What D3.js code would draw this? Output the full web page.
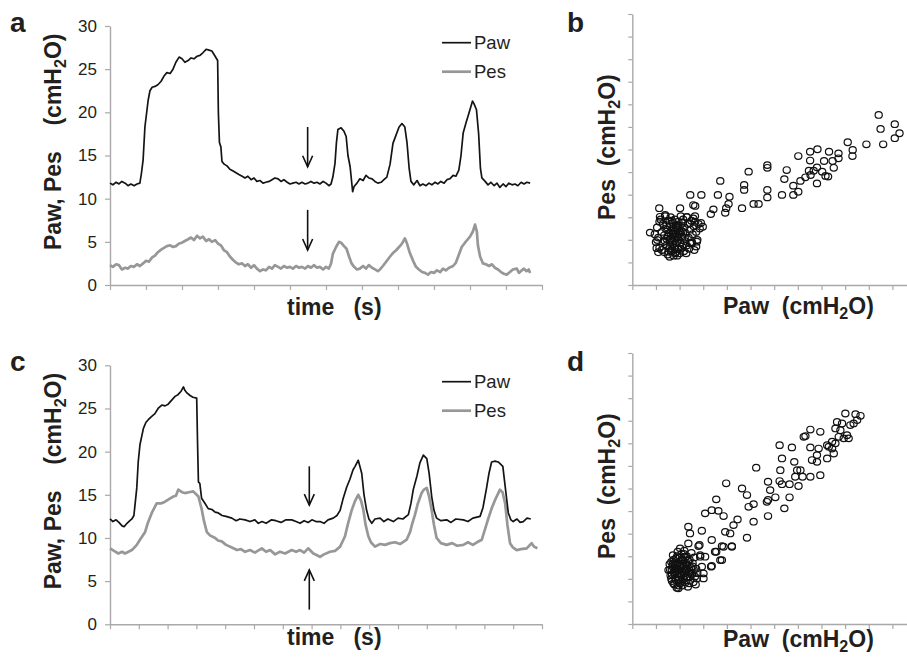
<!DOCTYPE html>
<html>
<head>
<meta charset="utf-8">
<script src="https://cdn.jsdelivr.net/npm/d3@7"></script>
<style>
  body { margin: 0; background: #fff; }
  svg text { font-family: "Liberation Sans", Arial, Helvetica, sans-serif; fill: #231f20; }
</style>
</head>
<body>
<svg id="chart" width="907" height="657"></svg>
<script>
// ---- data (time in axis tick units, pressures in cmH2O) ----
const pressureTicks = [0, 5, 10, 15, 20, 25, 30];

const aPaw = [[0,11.8],[0.08,11.6],[0.17,11.9],[0.25,11.7],[0.33,12.0],[0.42,11.8],[0.5,11.5],[0.58,11.7],[0.67,11.5],[0.75,11.7],[0.83,11.8],[0.875,13.0],[0.92,14.5],[0.97,18.3],[1.06,21.4],[1.11,22.5],[1.17,22.9],[1.25,23.0],[1.33,23.2],[1.42,23.6],[1.5,24.2],[1.58,24.6],[1.67,24.5],[1.75,25.0],[1.83,25.8],[1.92,26.4],[2.0,26.2],[2.08,25.8],[2.17,26.0],[2.25,26.3],[2.33,26.2],[2.42,26.5],[2.5,26.6],[2.58,26.9],[2.67,27.3],[2.75,27.2],[2.83,27.1],[2.92,26.5],[2.99,26.0],[3.01,20.0],[3.04,16.5],[3.08,16.0],[3.11,14.3],[3.17,14.0],[3.25,13.8],[3.33,13.4],[3.42,13.2],[3.5,13.0],[3.58,12.8],[3.67,12.6],[3.75,12.4],[3.83,12.6],[3.92,12.2],[4.0,12.4],[4.08,12.0],[4.17,12.1],[4.25,11.8],[4.33,11.9],[4.42,12.0],[4.5,12.2],[4.58,12.4],[4.67,12.3],[4.75,12.0],[4.83,12.2],[4.92,11.9],[5.0,11.7],[5.08,11.8],[5.17,11.9],[5.25,11.7],[5.33,11.9],[5.42,11.7],[5.5,11.8],[5.58,12.0],[5.67,11.8],[5.75,11.9],[5.83,11.7],[5.92,12.0],[6.0,11.8],[6.08,11.5],[6.14,11.7],[6.19,12.5],[6.25,14.1],[6.29,16.5],[6.33,18.0],[6.42,18.2],[6.5,17.8],[6.56,17.2],[6.61,15.0],[6.67,13.7],[6.74,10.8],[6.78,11.4],[6.86,11.8],[6.94,12.3],[7.03,12.1],[7.11,12.7],[7.19,12.4],[7.28,12.3],[7.36,12.0],[7.44,11.8],[7.53,11.9],[7.61,12.2],[7.69,12.5],[7.78,14.0],[7.86,16.4],[7.94,17.3],[8.03,18.3],[8.11,18.7],[8.19,18.3],[8.25,16.5],[8.31,13.5],[8.36,12.0],[8.44,11.6],[8.53,12.1],[8.61,11.5],[8.69,11.7],[8.78,11.5],[8.86,11.8],[8.94,11.6],[9.03,11.9],[9.11,11.7],[9.19,12.0],[9.28,11.8],[9.36,12.2],[9.44,12.3],[9.53,12.7],[9.61,12.6],[9.69,13.3],[9.75,15.0],[9.81,17.6],[9.89,18.8],[9.97,19.9],[10.07,21.3],[10.11,21.0],[10.18,20.3],[10.24,17.5],[10.29,13.5],[10.33,12.4],[10.42,12.0],[10.5,11.6],[10.58,11.9],[10.67,11.5],[10.75,11.8],[10.83,11.3],[10.92,11.7],[11.0,11.4],[11.08,11.8],[11.17,11.6],[11.25,11.7],[11.33,11.5],[11.42,11.9],[11.5,11.7],[11.58,11.9],[11.67,11.8]];

const aPes = [[0,2.3],[0.08,2.1],[0.17,2.4],[0.25,2.3],[0.33,1.8],[0.42,2.0],[0.5,1.9],[0.58,2.2],[0.67,2.1],[0.75,2.4],[0.83,2.2],[0.92,2.5],[1.0,2.8],[1.08,2.7],[1.17,3.2],[1.25,3.4],[1.33,3.8],[1.42,4.1],[1.5,4.3],[1.58,4.5],[1.67,4.6],[1.75,4.4],[1.83,4.5],[1.92,4.8],[2.0,4.9],[2.08,5.1],[2.17,5.3],[2.25,5.5],[2.33,5.2],[2.42,5.7],[2.5,5.4],[2.58,5.6],[2.67,5.1],[2.75,5.3],[2.83,5.0],[2.92,5.2],[3.0,4.8],[3.08,4.6],[3.17,4.0],[3.25,3.8],[3.33,3.3],[3.42,2.9],[3.5,2.6],[3.58,2.4],[3.67,2.5],[3.75,2.2],[3.83,2.4],[3.92,2.0],[4.0,2.3],[4.08,1.9],[4.17,1.6],[4.25,1.8],[4.33,1.7],[4.42,2.1],[4.5,1.9],[4.58,2.3],[4.67,2.1],[4.75,1.9],[4.83,2.2],[4.92,2.0],[5.0,2.1],[5.08,1.9],[5.17,2.2],[5.25,2.0],[5.33,2.1],[5.42,1.9],[5.5,2.2],[5.58,2.0],[5.67,2.3],[5.75,2.0],[5.83,2.1],[5.92,1.8],[6.0,2.1],[6.08,1.9],[6.14,2.5],[6.19,3.6],[6.28,4.4],[6.36,5.0],[6.42,4.9],[6.5,4.5],[6.57,4.2],[6.64,3.3],[6.71,2.5],[6.78,2.1],[6.86,1.8],[6.94,1.9],[7.03,2.2],[7.11,1.9],[7.19,2.3],[7.28,2.0],[7.36,1.8],[7.44,1.6],[7.5,1.8],[7.58,2.2],[7.67,2.7],[7.78,3.3],[7.86,3.7],[7.94,4.0],[8.03,4.4],[8.11,4.8],[8.19,5.4],[8.25,4.8],[8.33,3.7],[8.42,2.8],[8.5,2.1],[8.58,1.8],[8.67,1.5],[8.75,1.4],[8.83,1.2],[8.92,1.5],[9.0,1.4],[9.08,1.7],[9.17,1.5],[9.25,1.9],[9.33,1.7],[9.42,2.0],[9.53,2.2],[9.61,2.6],[9.69,3.5],[9.77,4.4],[9.86,4.9],[9.94,5.3],[10.0,5.6],[10.08,6.2],[10.14,7.0],[10.19,6.2],[10.22,4.6],[10.28,3.3],[10.36,2.5],[10.44,2.4],[10.53,2.2],[10.61,2.4],[10.69,2.0],[10.78,1.8],[10.86,1.5],[10.94,1.3],[11.02,1.2],[11.11,1.5],[11.19,1.8],[11.3,1.9],[11.36,1.4],[11.44,1.7],[11.5,1.9],[11.57,1.6],[11.63,1.8],[11.67,1.4]];

const cPaw = [[0,12.2],[0.1,11.9],[0.21,12.1],[0.31,11.8],[0.42,11.4],[0.49,11.3],[0.59,11.7],[0.69,12.0],[0.76,12.2],[0.83,12.6],[0.93,15.8],[0.98,18.8],[1.04,20.8],[1.16,22.7],[1.25,23.4],[1.33,23.7],[1.42,24.0],[1.56,24.4],[1.67,25.0],[1.8,25.4],[1.91,25.3],[2.02,25.5],[2.15,26.0],[2.26,26.4],[2.36,26.6],[2.47,27.0],[2.55,27.5],[2.6,27.1],[2.67,26.8],[2.78,26.5],[2.88,26.3],[3.01,26.2],[3.04,21.0],[3.07,16.5],[3.12,16.3],[3.18,14.6],[3.3,14.0],[3.41,13.4],[3.54,13.3],[3.65,13.0],[3.76,12.9],[3.89,12.6],[4.03,12.5],[4.23,12.3],[4.38,12.0],[4.51,12.2],[4.69,12.1],[4.86,11.9],[5.03,12.1],[5.15,11.7],[5.28,11.9],[5.42,11.7],[5.61,12.1],[5.76,12.0],[5.94,11.8],[6.11,12.1],[6.31,12.1],[6.46,11.9],[6.6,11.7],[6.74,12.0],[6.88,11.8],[7.01,12.1],[7.15,11.9],[7.29,11.9],[7.43,11.7],[7.57,12.1],[7.75,12.3],[7.88,12.6],[7.99,13.2],[8.09,14.5],[8.22,15.9],[8.33,16.8],[8.44,17.9],[8.51,18.3],[8.62,19.0],[8.74,17.5],[8.82,15.0],[8.91,13.2],[8.99,12.2],[9.09,11.7],[9.2,12.2],[9.38,12.3],[9.51,11.9],[9.65,12.2],[9.84,11.9],[10.0,12.3],[10.17,12.2],[10.36,12.7],[10.45,14.0],[10.53,15.6],[10.66,17.2],[10.76,18.7],[10.88,19.6],[11.0,19.2],[11.08,17.5],[11.17,14.8],[11.25,13.2],[11.34,12.3],[11.49,12.0],[11.69,12.1],[11.84,11.8],[12.01,12.2],[12.27,12.1],[12.43,11.9],[12.6,12.3],[12.85,12.5],[12.95,13.5],[13.08,15.9],[13.16,17.5],[13.25,18.8],[13.37,18.9],[13.48,18.8],[13.64,18.3],[13.72,16.0],[13.83,12.9],[13.92,12.1],[14.0,11.9],[14.13,12.2],[14.24,11.8],[14.35,11.9],[14.48,12.3],[14.61,12.2]];

const cPes = [[0,8.8],[0.14,8.5],[0.29,8.2],[0.42,8.4],[0.52,8.2],[0.64,8.4],[0.76,8.6],[0.93,9.2],[1.04,9.8],[1.22,10.7],[1.32,11.8],[1.45,12.9],[1.62,14.0],[1.77,14.0],[1.91,14.2],[2.05,14.5],[2.2,14.8],[2.29,14.9],[2.37,15.6],[2.5,15.3],[2.6,15.2],[2.74,15.3],[2.89,15.4],[3.07,14.8],[3.18,13.4],[3.26,12.0],[3.36,10.7],[3.47,10.3],[3.65,10.0],[3.75,9.7],[3.88,9.6],[4.03,9.2],[4.23,8.9],[4.41,8.6],[4.55,8.7],[4.69,8.4],[4.86,8.6],[5.03,8.3],[5.27,8.8],[5.42,8.4],[5.56,8.6],[5.73,8.1],[5.9,8.4],[6.08,8.2],[6.31,8.6],[6.46,8.4],[6.6,8.6],[6.74,8.3],[6.88,8.8],[7.06,8.2],[7.19,8.0],[7.29,7.8],[7.43,8.1],[7.64,8.4],[7.81,8.5],[7.99,9.0],[8.16,10.2],[8.26,11.6],[8.39,13.2],[8.51,14.3],[8.62,15.0],[8.72,14.3],[8.8,13.2],[8.87,11.6],[8.97,10.2],[9.06,9.5],[9.2,9.0],[9.38,9.3],[9.55,9.2],[9.72,9.4],[9.9,9.5],[10.07,9.3],[10.3,9.8],[10.42,10.7],[10.49,11.6],[10.59,12.7],[10.69,14.0],[10.82,15.2],[10.9,15.6],[11.0,15.8],[11.08,14.8],[11.17,13.2],[11.25,11.5],[11.34,10.0],[11.49,9.4],[11.69,9.2],[11.88,9.4],[12.05,9.1],[12.27,9.2],[12.43,9.5],[12.6,9.2],[12.74,9.5],[12.91,9.8],[13.02,11.0],[13.14,12.3],[13.25,13.4],[13.37,14.4],[13.47,15.1],[13.54,15.6],[13.63,15.3],[13.72,14.0],[13.8,11.5],[13.89,9.4],[13.99,8.9],[14.12,8.6],[14.27,8.7],[14.47,8.8],[14.64,9.4],[14.72,9.0],[14.84,8.8]];

// occlusion arrows: [time, from, to]
const aArrows = [[5.49, 18.3, 13.7], [5.49, 8.7, 4.05]];
const cArrows = [[6.92, 18.3, 13.8], [6.92, 1.7, 6.3]];

// scatter points, in grid units of the unlabelled axes: [Paw, Pes]
const bPoints = [[10.42,7.53],[10.50,6.91],[11.10,7.12],[11.30,6.72],[11.10,6.50],[10.61,6.23],[9.90,6.23],[9.11,6.32],[9.32,5.98],[9.31,5.71],[8.72,5.83],[8.72,5.61],[8.32,5.90],[8.47,5.49],[8.11,5.49],[8.52,5.19],[7.83,6.01],[7.52,5.90],[7.52,5.51],[7.02,5.71],[7.81,5.21],[7.67,5.06],[8.03,5.02],[7.47,5.06],[7.54,4.87],[7.32,4.77],[7.11,4.61],[7.81,4.50],[8.28,4.80],[8.17,4.83],[6.53,5.09],[6.43,4.69],[6.81,4.40],[7.02,4.13],[6.81,3.99],[6.33,3.99],[5.71,5.31],[5.71,5.19],[4.92,5.02],[4.73,4.43],[4.73,4.21],[5.71,4.21],[5.71,3.88],[3.72,4.61],[3.62,3.99],[4.11,3.91],[4.07,3.59],[3.97,3.40],[3.93,3.20],[4.64,3.40],[5.13,3.59],[5.34,3.59],[2.92,3.99],[2.45,3.99],[3.43,3.35],[3.32,3.14],[2.66,3.50],[2.02,3.40],[1.14,3.40],[2.98,2.58],[0.75,2.32],
  [2.58,3.54],[2.73,1.92],[2.52,1.85],[1.03,1.63],[1.06,1.99],[1.53,1.47],[1.81,1.40],[1.17,3.02],[1.39,3.10],[2.31,3.02],[2.44,2.73],[2.66,2.80],[2.16,1.77],
  [1.05,2.55],[1.10,2.10],[1.15,1.65],[1.20,2.90],[1.25,2.35],[1.30,1.90],[1.30,2.70],[1.35,1.45],[1.35,2.20],[1.40,3.05],[1.40,2.50],[1.45,1.75],[1.45,2.05],[1.50,2.85],[1.50,1.35],[1.55,2.30],[1.55,1.60],[1.60,2.60],[1.60,1.95],[1.62,3.00],[1.65,1.50],[1.65,2.40],[1.70,2.15],[1.70,1.80],[1.72,2.75],[1.75,1.30],[1.75,2.50],[1.78,2.00],[1.80,1.65],[1.80,2.90],[1.82,2.30],[1.85,1.45],[1.85,2.65],[1.88,1.90],[1.90,2.45],[1.92,2.10],[1.95,1.60],[1.95,2.80],[1.98,2.25],[2.00,1.40],[2.00,2.60],[2.02,1.85],[2.05,3.05],[2.08,2.40],[2.10,1.70],[2.10,2.15],[2.15,2.90],[2.18,1.50],[2.20,2.55],[2.22,1.95],[2.25,2.30],[2.30,3.00],[2.30,1.75],[2.35,2.70],[2.38,2.10],[2.40,1.60],[2.45,2.45],[2.50,2.85],[2.52,1.90],[2.55,2.25],[2.60,2.60],[2.62,1.55],[2.65,3.05],[2.70,2.35],[2.75,2.00],[2.80,2.70],[2.85,2.50],[1.15,2.80],[1.25,1.55],[1.45,2.65],[1.58,1.25],[1.68,2.85],[1.90,1.30],[2.12,2.75],[2.28,1.40],[2.45,1.85],[2.58,2.95],[1.38,1.95],[1.52,2.15],[1.75,2.25],[1.95,2.00],[2.15,2.35],[1.60,1.70],[1.85,2.55],[2.05,1.60],[1.00,1.90],[0.95,2.25],[1.10,1.45],[2.90,2.75],[2.70,1.70],
  [1.62,2.05],[1.72,2.40],[1.88,2.15],[2.02,2.35],[1.68,1.60],[1.82,1.85],[1.48,2.45],[2.22,2.10],[1.92,2.65],[1.58,2.85]];

const dPoints = [[9.01,9.32],[9.44,9.29],[9.65,9.22],[8.66,8.95],[8.87,8.88],[9.22,8.81],[9.36,8.88],[9.51,9.03],[8.59,8.66],[8.80,8.58],[9.08,8.36],[8.94,8.22],[9.15,8.22],[8.73,8.29],[8.45,8.07],[8.59,8.00],[8.31,7.85],[8.45,7.77],[8.52,7.55],[8.24,7.92],[7.95,8.51],[7.53,8.61],[7.32,8.32],[7.25,8.29],[7.53,7.82],[7.88,7.77],[7.81,7.48],[7.60,7.26],[7.81,7.18],[8.24,7.33],[7.95,6.59],[7.53,6.52],[7.20,6.52],[7.11,6.81],[6.97,6.81],[6.89,6.52],[7.03,6.11],[6.65,6.19],[6.75,7.82],[6.23,7.92],[6.33,7.33],[6.85,7.18],[6.26,6.81],[6.23,6.33],[6.33,6.19],[5.24,6.92],[5.74,6.30],[5.83,5.93],[6.05,5.61],[5.74,5.49],[5.69,5.41],[6.65,5.61],[6.43,5.12],[5.74,4.78],[5.13,5.31],[4.92,5.19],[4.85,5.71],[4.64,6.00],[3.97,6.23],[3.55,5.52],[3.08,4.90],[3.36,5.04],[3.64,5.01],[3.86,4.78],[4.45,4.63],[4.28,4.38],[4.14,4.01],[3.93,4.08],[5.13,4.53],[4.85,3.82],[4.21,3.42],[3.86,3.42],[3.36,3.72],[3.55,3.20],[3.72,2.83],[2.94,4.13],[2.37,4.31],[2.44,4.01],[2.84,3.50],[3.33,2.54],[3.01,2.24],
  [2.80,3.45],[2.87,3.05],[2.37,3.57],[2.94,2.54],[3.36,2.57],[3.01,2.02],[2.73,2.02],[1.74,1.80],[1.95,1.58],[1.67,2.39],[2.02,3.35],[3.50,3.20],[3.79,3.45],[4.21,3.45],[3.79,2.83],[1.53,2.39],[2.44,2.09],[3.08,2.98],[2.87,2.98],
  [1.60,2.40],[1.62,2.15],[1.65,2.75],[1.68,1.90],[1.70,2.55],[1.72,3.05],[1.75,2.30],[1.78,1.75],[1.80,2.65],[1.82,2.05],[1.85,2.90],[1.85,2.45],[1.88,1.60],[1.90,2.20],[1.92,3.20],[1.95,2.70],[1.95,1.95],[1.98,2.40],[2.00,2.95],[2.02,1.80],[2.05,2.55],[2.05,2.15],[2.08,3.10],[2.10,2.35],[2.12,1.70],[2.15,2.80],[2.15,2.00],[2.18,2.55],[2.20,3.25],[2.22,2.25],[2.25,1.85],[2.25,2.70],[2.28,2.45],[2.30,3.00],[2.32,2.10],[2.35,1.65],[2.38,2.60],[2.40,2.30],[2.42,2.85],[2.45,1.95],[2.48,2.50],[2.50,3.15],[2.52,2.20],[2.55,2.70],[2.58,1.85],[2.60,2.40],[2.62,2.95],[2.65,2.10],[1.75,2.85],[1.88,2.60],[2.00,2.25],[2.12,2.65],[2.22,2.95],[1.68,2.20],[1.95,1.70],[2.35,2.80],[2.45,2.25],[1.82,2.35],[2.08,1.90],[2.28,2.05],[2.40,1.80],[2.55,2.55],[1.58,2.65],[1.65,2.00],[2.70,2.45],[2.68,1.75],[2.75,2.25],[1.90,3.00],[2.18,3.10],[2.05,2.80],[1.78,2.50],[2.32,2.40],
  [1.92,2.45],[2.02,2.62],[2.12,2.20],[1.80,2.20],[2.20,2.40],[1.98,2.08],[2.10,2.85],[1.72,2.68],[2.30,2.62],[1.85,1.95]];

const svg = d3.select("#chart");
const axisGrey = "#a9a9a9";
const pesGrey = "#979797";

function styleAxis(sel) {
  sel.select(".domain").attr("stroke", axisGrey).attr("stroke-width", 1.4);
  sel.selectAll(".tick line").attr("stroke", axisGrey).attr("stroke-width", 1.2);
  sel.selectAll(".tick text").attr("font-size", 17).attr("fill", "#231f20")
    .attr("font-family", '"Liberation Sans", Arial, sans-serif');
}

// text with a subscript "2" in cmH2O
function unitText(g, pre, x, y, size, rotate) {
  const t = g.append("text")
    .attr("transform", `translate(${x},${y})` + (rotate ? " rotate(-90)" : ""))
    .attr("font-size", size).attr("font-weight", "bold")
    .style("white-space", "pre");
  t.append("tspan").text(pre + "(cmH");
  t.append("tspan").attr("font-size", size * 0.7).attr("dy", size * 0.2).text("2");
  t.append("tspan").attr("dy", -size * 0.2).text("O)");
}

function drawArrow(g, x, y, d) {
  const xp = x(d[0]), y1 = y(d[1]), y2 = y(d[2]);
  const dir = y2 > y1 ? 1 : -1;
  g.append("line").attr("x1", xp).attr("x2", xp).attr("y1", y1).attr("y2", y2)
    .attr("stroke", "#111").attr("stroke-width", 1.6);
  g.append("polyline")
    .attr("points", `${xp - 5},${y2 - dir * 11} ${xp},${y2} ${xp + 5},${y2 - dir * 11}`)
    .attr("fill", "none").attr("stroke", "#111").attr("stroke-width", 1.6);
}

function tracePanel(letter, paw, pes, arrows, tMax, y0, legendY, titleY) {
  const g = svg.append("g");
  const x = d3.scaleLinear().domain([0, tMax]).range([110, 542]);
  const y = d3.scaleLinear().domain([0, 30]).range([y0, y0 - 259]);

  g.append("g").attr("transform", "translate(110,0)")
    .call(d3.axisLeft(y).tickValues(pressureTicks).tickSize(5).tickSizeOuter(0).tickPadding(8))
    .call(styleAxis);
  g.append("g").attr("transform", `translate(0,${y0})`)
    .call(d3.axisBottom(x).tickValues(d3.range(0, tMax + 1)).tickSize(5).tickSizeOuter(0).tickFormat(""))
    .call(styleAxis);

  const line = d3.line().x(d => x(d[0])).y(d => y(d[1]));
  g.append("path").datum(pes).attr("d", line)
    .attr("fill", "none").attr("stroke", pesGrey).attr("stroke-width", 2.7).attr("stroke-linejoin", "round");
  g.append("path").datum(paw).attr("d", line)
    .attr("fill", "none").attr("stroke", "#141414").attr("stroke-width", 1.7).attr("stroke-linejoin", "round");

  arrows.forEach(a => drawArrow(g, x, y, a));

  // legend
  [["Paw", "#141414", 1.7, 0], ["Pes", pesGrey, 2.7, 29]].forEach(([name, col, w, off]) => {
    g.append("line").attr("x1", 442).attr("x2", 471)
      .attr("y1", legendY + off).attr("y2", legendY + off)
      .attr("stroke", col).attr("stroke-width", w);
    g.append("text").attr("x", 474).attr("y", legendY + off + 6.5)
      .attr("font-size", 18.5).text(name);
  });

  g.append("text").attr("x", 287).attr("y", titleY)
    .attr("font-size", 23).attr("font-weight", "bold").style("white-space", "pre")
    .text("time   (s)");
  unitText(g, "Paw, Pes    ", 61, y0 - 35, 23, true);
  g.append("text").attr("x", 10).attr("y", y0 - 253)
    .attr("font-size", 28).attr("font-weight", "bold").text(letter);
}

function scatterPanel(letter, pts, y0, titleY) {
  const g = svg.append("g");
  const x = d3.scaleLinear().domain([0, 11.6]).range([632.3, 906.6]);
  const y = d3.scaleLinear().domain([0, 12]).range([y0, y0 - 271]);

  g.append("g").attr("transform", "translate(632.3,0)")
    .call(d3.axisLeft(y).tickValues(d3.range(0, 13)).tickSize(4).tickSizeOuter(0).tickFormat(""))
    .call(styleAxis);
  g.append("g").attr("transform", `translate(0,${y0})`)
    .call(d3.axisBottom(x).tickValues(d3.range(0, 12)).tickSize(5).tickSizeOuter(0).tickFormat(""))
    .call(styleAxis);

  g.selectAll("ellipse").data(pts).join("ellipse")
    .attr("cx", d => x(d[0])).attr("cy", d => y(d[1]))
    .attr("rx", 3.6).attr("ry", 3.3)
    .attr("fill", "none").attr("stroke", "#111").attr("stroke-width", 1.2);

  unitText(g, "Paw  ", 723, titleY, 23, false);
  unitText(g, "Pes  ", 615, y0 - 65, 23, true);
  g.append("text").attr("x", 567).attr("y", y0 - 253)
    .attr("font-size", 28).attr("font-weight", "bold").text(letter);
}

tracePanel("a", aPaw, aPes, aArrows, 12, 285, 42.7, 315);
scatterPanel("b", bPoints, 285, 314);
tracePanel("c", cPaw, cPes, cArrows, 15, 624.3, 381.7, 645);
scatterPanel("d", dPoints, 624, 647);
</script>
</body>
</html>
